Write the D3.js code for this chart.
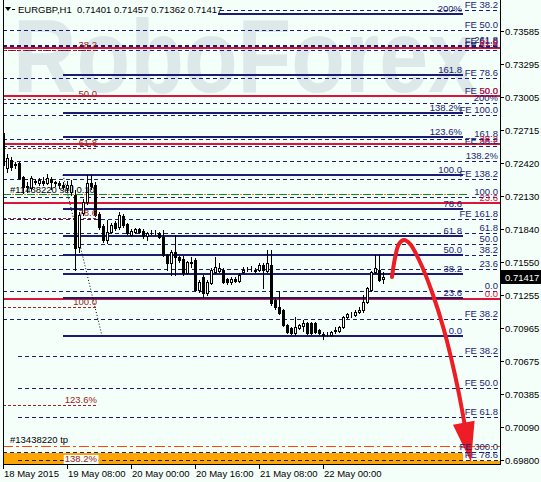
<!DOCTYPE html>
<html><head><meta charset="utf-8">
<script src="https://cdn.jsdelivr.net/npm/d3@7"></script>
<style>
html,body{margin:0;padding:0;background:#f5fffa;}
svg{display:block;}
text{font-family:"Liberation Sans",Arial,sans-serif;font-size:9.5px;white-space:pre;}
</style></head><body>
<svg id="c" width="541" height="482"></svg>
<script>
// ---------------- DATA ----------------
const symbolTitle = "EURGBP,H1  0.71401 0.71457 0.71362 0.71417";
const opens  = [0.72685,0.72376,0.72447,0.72410,0.72420,0.72297,0.72215,0.72200,0.72260,0.72240,0.72265,0.72245,0.72280,0.72250,0.72240,0.72225,0.72200,0.72165,0.72138,0.71680,0.71980,0.72077,0.72240,0.72230,0.71970,0.71865,0.71741,0.71812,0.71890,0.71855,0.71955,0.71880,0.71785,0.71810,0.71840,0.71820,0.71780,0.71800,0.71805,0.71805,0.71770,0.71609,0.71540,0.71635,0.71590,0.71575,0.71450,0.71540,0.71565,0.71300,0.71415,0.71270,0.71360,0.71460,0.71470,0.71480,0.71400,0.71370,0.71400,0.71380,0.71458,0.71476,0.71478,0.71476,0.71476,0.71520,0.71465,0.71520,0.71212,0.71150,0.71123,0.70991,0.70965,0.70920,0.70965,0.70985,0.71010,0.71010,0.71010,0.70950,0.70910,0.70910,0.70905,0.70940,0.70940,0.70975,0.71060,0.71080,0.71080,0.71105,0.71120,0.71195,0.71300,0.71460,0.71480,0.71401];
const highs  = [0.72756,0.72500,0.72474,0.72430,0.72430,0.72310,0.72253,0.72306,0.72275,0.72290,0.72300,0.72320,0.72300,0.72265,0.72260,0.72250,0.72260,0.72270,0.72182,0.71988,0.72100,0.72314,0.72314,0.72250,0.71990,0.71880,0.71918,0.71890,0.71905,0.71985,0.71970,0.71890,0.71835,0.71850,0.71850,0.71840,0.71810,0.71830,0.71825,0.71815,0.71829,0.71620,0.71650,0.71785,0.71600,0.71600,0.71560,0.71590,0.71580,0.71385,0.71430,0.71385,0.71490,0.71590,0.71540,0.71495,0.71410,0.71415,0.71415,0.71450,0.71500,0.71500,0.71510,0.71490,0.71535,0.71535,0.71653,0.71653,0.71220,0.71290,0.71135,0.71000,0.70975,0.71060,0.71000,0.71035,0.71020,0.71020,0.71020,0.70960,0.70925,0.70925,0.70935,0.70970,0.70985,0.71070,0.71095,0.71110,0.71120,0.71150,0.71255,0.71330,0.71470,0.71609,0.71609,0.71457];
const lows   = [0.72340,0.72340,0.72359,0.72380,0.72280,0.72156,0.72165,0.72182,0.72235,0.72225,0.72230,0.72235,0.72190,0.72220,0.72200,0.72190,0.72170,0.72138,0.71476,0.71636,0.71960,0.72060,0.72190,0.71950,0.71840,0.71720,0.71715,0.71800,0.71830,0.71840,0.71860,0.71790,0.71775,0.71800,0.71800,0.71760,0.71741,0.71790,0.71790,0.71760,0.71600,0.71476,0.71432,0.71432,0.71550,0.71430,0.71440,0.71500,0.71290,0.71285,0.71240,0.71260,0.71350,0.71450,0.71460,0.71360,0.71355,0.71355,0.71370,0.71370,0.71450,0.71465,0.71470,0.71460,0.71465,0.71317,0.71455,0.71170,0.71130,0.71085,0.70980,0.70920,0.70910,0.70905,0.70955,0.70935,0.70910,0.70910,0.70920,0.70910,0.70870,0.70895,0.70895,0.70920,0.70930,0.70965,0.71050,0.71060,0.71070,0.71095,0.71110,0.71185,0.71290,0.71450,0.71380,0.71362];
const closes = [0.72400,0.72465,0.72385,0.72400,0.72288,0.72209,0.72205,0.72288,0.72250,0.72270,0.72240,0.72285,0.72255,0.72240,0.72230,0.72210,0.72230,0.72226,0.71670,0.71962,0.72077,0.72244,0.72220,0.71962,0.71855,0.71741,0.71812,0.71873,0.71845,0.71962,0.71873,0.71800,0.71820,0.71840,0.71812,0.71775,0.71800,0.71805,0.71800,0.71770,0.71609,0.71540,0.71635,0.71590,0.71565,0.71450,0.71545,0.71545,0.71300,0.71370,0.71270,0.71370,0.71476,0.71500,0.71490,0.71370,0.71370,0.71400,0.71380,0.71435,0.71476,0.71480,0.71476,0.71470,0.71520,0.71476,0.71540,0.71185,0.71150,0.71097,0.70991,0.70930,0.70920,0.70975,0.70991,0.71010,0.70920,0.70920,0.70930,0.70920,0.70905,0.70915,0.70925,0.70950,0.70975,0.71060,0.71085,0.71082,0.71110,0.71120,0.71195,0.71320,0.71460,0.71495,0.71388,0.71417];
const lastPrice = 0.71417;

const timeTickIdx = [0, 16, 32, 48, 64, 80];
const timeLabels  = ["18 May 2015","19 May 08:00","20 May 00:00","20 May 16:00","21 May 08:00","22 May 00:00"];
const priceTicks  = [0.73585,0.73295,0.73005,0.72715,0.72420,0.72130,0.71840,0.71550,0.71255,0.70965,0.70675,0.70385,0.70090,0.69800];

// Fibonacci retracement A (solid navy) : 0% / 100% prices, time span (bar index)
const fibA_anchor = [0.70894, 0.72315];
const fibA_span   = [15, 115];
const fibA_levels = [0, 23.6, 38.2, 50, 61.8, 78.6, 100, 123.6, 138.2, 161.8, 200];
const fibA_labels = ["0.0","23.6","38.2","50.0","61.8","78.6","100.0","123.6%","138.2%","161.8","200%"];
const fibA_trend  = [[15, 0.72315], [24.75, 0.70894]];

// Fibonacci retracement B (dashed navy)
const fibB_anchor = [0.71291, 0.72120];
const fibB_levels = [0, 23.6, 38.2, 50, 61.8, 100, 138.2, 161.8, 200, 261.8];
const fibB_labels = ["0.0","23.6","38.2","50.0","61.8","100.0","138.2%","161.8","200%","261.8"];

// Fibonacci retracement C (red)
const fibC_anchor = [0.71220, 0.74811];
const fibC_levels = [0, 23.6, 38.2, 50, 61.8];
const fibC_labels = ["0.0","23.6","38.2","50.0","61.8"];

// Fibonacci retracement D (dark red, short)
const fibD_anchor = [0.74820, 0.71150];
const fibD_span   = [0, 23.5];
const fibD_levels = [38.2, 50, 61.8, 78.6, 100, 123.6, 138.2];
const fibD_labels = ["38.2","50.0","61.8","78.6","100.0","123.6%","138.2%"];

// Fibonacci expansions
const fe1_anchor = [0.74339, 0.72848];
const fe1_levels = [38.2, 50, 61.8, 78.6, 100, 138.2, 161.8];
const fe1_labels = ["38.2","50.0","61.8","78.6","100.0","138.2","161.8"];
const fe2_anchor = [0.71141, 0.74882];
const fe2_levels = [38.2, 50, 61.8];
const fe2_labels = ["38.2","50.0","61.8"];
const fe3_prices = [0.71044, 0.69871];
const fe3_labels = ["38.2", "300.0"];
const fe4_prices = [0.70718, 0.70435, 0.70179, 0.69800];
const fe4_labels = ["38.2","50.0","61.8","78.6"];
const fe4_start  = 3.75;

// Orders
const orderPrice = 0.72151;
const orderLabel = "#11438220 sell 0.10";
const tpPrice    = 0.69924;
const tpLabel    = "#13438220 tp";
const bandPrices = [0.69765, 0.69862];

// Forecast arrow (bar index, price)
const arrowPts = [[97.25,0.71415],[98,0.71582],[99,0.71706],[100.25,0.71741],[101.75,0.71706],[104.25,0.71547],[107.25,0.71282],[110.25,0.70947],[113,0.70550],[115,0.70197],[117,0.69782]];

// ---------------- CHART ----------------
const W = 541, H = 482;
const L = 3, R = 500, T = 0, B = 464;
const x = d3.scaleLinear().domain([0, 124.25]).range([L, R]);
const y = d3.scaleLinear().domain([0.69800, 0.73585]).range([460, 31]);
const NAVY = "#1c1c72", RED = "#dc143c", DRED = "#9a2222";
const py = p => Math.round(y(p));

const svg = d3.select("#c");
svg.append("rect").attr("width", W).attr("height", H).attr("fill", "#f5fffa");

svg.append("defs").append("clipPath").attr("id", "plot")
  .append("rect").attr("x", L).attr("y", T).attr("width", R - L).attr("height", B - T);

// watermark
svg.append("text").attr("x", 13).attr("y", 92)
  .attr("textLength", 464).attr("lengthAdjust", "spacingAndGlyphs")
  .style("font-size", "103px").style("font-weight", "bold")
  .attr("fill", "#dde8e9").text("RoboForex");

const plot = svg.append("g").attr("clip-path", "url(#plot)");
const lbl = svg.append("g");

function hline(g, p, i1, i2, color, w, dash) {
  const yy = w % 2 === 1 ? py(p) + 0.5 : py(p);
  const l = g.append("line").attr("x1", x(i1)).attr("x2", x(i2)).attr("y1", yy).attr("y2", yy)
    .attr("stroke", color).attr("stroke-width", w).attr("shape-rendering", "crispEdges");
  if (dash) l.attr("stroke-dasharray", dash);
  return l;
}
function label(g, txt, xr, p, color, anchor) {
  return g.append("text").attr("x", xr).attr("y", py(p) - 2)
    .attr("text-anchor", anchor || "end").attr("fill", color).text(txt);
}
const lvl = (a, v) => a[0] + (a[1] - a[0]) * v / 100;

// orange band
plot.append("rect").attr("x", x(0)).attr("width", x(115) - x(0))
  .attr("y", py(bandPrices[1])).attr("height", py(bandPrices[0]) - py(bandPrices[1])).attr("fill", "#ffa500");
plot.append("rect").attr("x", x(0)).attr("width", x(124.25) - x(0))
  .attr("y", py(bandPrices[0]) - 3).attr("height", 3).attr("fill", "#ffa500");

// fib B dashed navy
fibB_levels.forEach((v, i) => {
  const p = lvl(fibB_anchor, v);
  hline(plot, p, 0, 124.25, NAVY, 1, "4,3");
  label(lbl, fibB_labels[i], x(124.25) - 2, p, NAVY);
});
// FE 1, 2 dashed
fe1_levels.forEach((v, i) => {
  const p = lvl(fe1_anchor, v);
  hline(plot, p, 0, 124.25, NAVY, 1, "4,3");
  label(lbl, "FE " + fe1_labels[i], x(124.25) - 2, p, NAVY);
});
fe2_levels.forEach((v, i) => {
  const p = lvl(fe2_anchor, v);
  hline(plot, p, 0, 124.25, NAVY, 1, "4,3");
  label(lbl, "FE " + fe2_labels[i], x(124.25) - 2, p, NAVY);
});
fe3_prices.forEach((p, i) => {
  hline(plot, p, 0, 124.25, NAVY, 1, "4,3");
  label(lbl, "FE " + fe3_labels[i], x(124.25) - 2, p, NAVY);
});
fe4_prices.forEach((p, i) => {
  hline(plot, p, fe4_start, 124.25, NAVY, 1, "4,3");
  label(lbl, "FE " + fe4_labels[i], x(124.25) - 2, p, NAVY);
});

// fib C red solid
fibC_levels.forEach((v, i) => {
  const p = lvl(fibC_anchor, v);
  hline(plot, p, 0, 124.25, RED, 2);
  label(lbl, fibC_labels[i], x(124.25) - 2, p, RED);
});

// fib A solid navy
fibA_levels.forEach((v, i) => {
  const p = lvl(fibA_anchor, v);
  hline(plot, p, fibA_span[0], fibA_span[1], NAVY, 2);
  label(lbl, fibA_labels[i], x(fibA_span[1]) - 1, p, NAVY);
});
plot.append("line")
  .attr("x1", x(fibA_trend[0][0])).attr("y1", y(fibA_trend[0][1]))
  .attr("x2", x(fibA_trend[1][0])).attr("y2", y(fibA_trend[1][1]))
  .attr("stroke", "#000").attr("stroke-width", 1).attr("stroke-dasharray", "1,2");

// fib D dark red dashed short
fibD_levels.forEach((v, i) => {
  const p = lvl(fibD_anchor, v);
  hline(plot, p, fibD_span[0], fibD_span[1], DRED, 1, "3,2");
  const t = label(svg, fibD_labels[i], x(fibD_span[1]), p, DRED);
  if (i === fibD_levels.length - 1) {
    const bb = t.node().getBBox();
    svg.insert("rect", () => t.node()).attr("x", bb.x - 1).attr("y", bb.y).attr("width", bb.width + 2)
      .attr("height", bb.height).attr("fill", "#f5fffa");
    t.attr("y", 462);
    svg.select("rect:last-of-type");
  }
});

// order line and tp line
hline(plot, orderPrice, 0, 116, "#1a8a1a", 1, "8,4");
hline(plot, orderPrice, 0, 116, "#ff7f00", 1, "2,10").attr("stroke-dashoffset", -9);
hline(plot, tpPrice, 0, 124.25, "#ff4500", 1, "10,3,3,3");
svg.append("text").attr("x", 10).attr("y", py(orderPrice) - 1).attr("fill", "#000").text(orderLabel);
svg.append("text").attr("x", 10).attr("y", py(tpPrice) - 3).attr("fill", "#000").text(tpLabel);

// candles
const idx = d3.range(opens.length);
const cg = plot.append("g").attr("shape-rendering", "crispEdges");
cg.selectAll("line.w").data(idx).join("line")
  .attr("x1", i => Math.round(x(i)) + 0.5).attr("x2", i => Math.round(x(i)) + 0.5)
  .attr("y1", i => py(highs[i])).attr("y2", i => py(lows[i]) + 1)
  .attr("stroke", "#000");
cg.selectAll("rect.b").data(idx).join("rect")
  .attr("x", i => Math.round(x(i)) - 0.5).attr("width", 2)
  .attr("y", i => py(Math.max(opens[i], closes[i])) + 0.5)
  .attr("height", i => Math.max(0, py(Math.min(opens[i], closes[i])) - py(Math.max(opens[i], closes[i]))))
  .attr("fill", i => closes[i] >= opens[i] ? "#ffffff" : "#000000")
  .attr("stroke", "#000").attr("stroke-width", 1);

// forecast arrow
const pts = arrowPts.map(d => [x(d[0]), y(d[1])]);
const tip = pts[pts.length - 1];
const prev = pts[pts.length - 3];
let dx = tip[0] - prev[0], dy = tip[1] - prev[1];
const len = Math.hypot(dx, dy); dx /= len; dy /= len;
const HL = 40, HW = 11;
const base = [tip[0] - dx * HL, tip[1] - dy * HL];
const curvePts = pts.slice(0, -1).concat([[tip[0] - dx * HL * 0.6, tip[1] - dy * HL * 0.6]]);
plot.append("path").attr("d", d3.line().curve(d3.curveCatmullRom)(curvePts))
  .attr("fill", "none").attr("stroke", "#ee1c25").attr("stroke-width", 4).attr("stroke-linecap", "round");
plot.append("path")
  .attr("d", d3.line()([tip, [base[0] - dy * HW, base[1] + dx * HW], [base[0] + dy * HW, base[1] - dx * HW]]) + "Z")
  .attr("fill", "#ee1c25");

// header
svg.append("rect").attr("x", 4).attr("y", 2).attr("width", 214).attr("height", 14).attr("fill", "#f5fffa");
svg.append("path").attr("d", "M5,7 L11,7 L8,11 Z").attr("fill", "#000");
svg.append("line").attr("x1", 12).attr("x2", 15).attr("y1", 9.5).attr("y2", 9.5).attr("stroke", "#000");
svg.append("text").attr("x", 18).attr("y", 13).attr("fill", "#000").text(symbolTitle);

// axes
const ax = svg.append("g").attr("shape-rendering", "crispEdges");
ax.append("line").attr("x1", L + 0.5).attr("x2", L + 0.5).attr("y1", 0).attr("y2", B + 1).attr("stroke", "#000");
ax.append("line").attr("x1", R + 0.5).attr("x2", R + 0.5).attr("y1", 0).attr("y2", B + 1).attr("stroke", "#000");
ax.append("line").attr("x1", L).attr("x2", R + 1).attr("y1", B + 0.5).attr("y2", B + 0.5).attr("stroke", "#000");

priceTicks.forEach(p => {
  const yy = py(p) + 0.5;
  ax.append("line").attr("x1", R).attr("x2", R + 4).attr("y1", yy).attr("y2", yy).attr("stroke", "#000");
  svg.append("text").attr("x", 505).attr("y", yy + 3.5).attr("fill", "#000").text(d3.format(".5f")(p));
});
timeTickIdx.forEach((t, i) => {
  const xx = Math.round(x(t)) + 0.5;
  ax.append("line").attr("x1", xx).attr("x2", xx).attr("y1", B).attr("y2", B + 5).attr("stroke", "#000");
  svg.append("text").attr("x", xx + 0.5).attr("y", 477).attr("fill", "#000").text(timeLabels[i]);
});

// last price tag
svg.append("rect").attr("x", 501).attr("y", py(lastPrice) - 7).attr("width", 40).attr("height", 14).attr("fill", "#000");
svg.append("text").attr("x", 505).attr("y", py(lastPrice) + 3.5).attr("fill", "#fff").text(d3.format(".5f")(lastPrice));
</script>
</body></html>
